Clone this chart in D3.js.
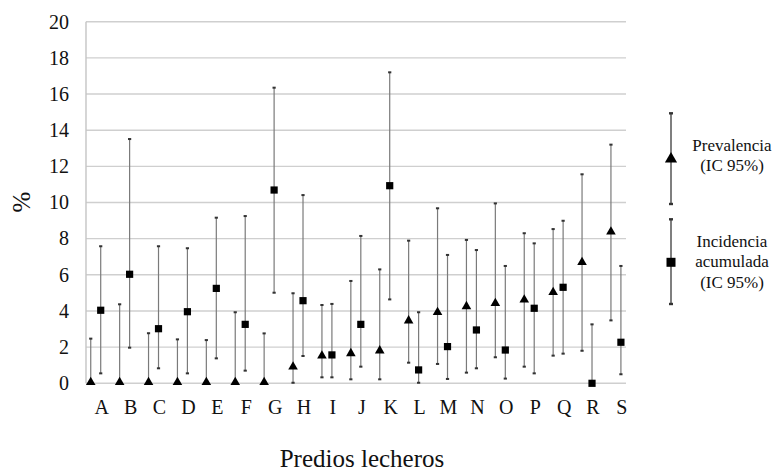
<!DOCTYPE html>
<html>
<head>
<meta charset="utf-8">
<script src="https://cdn.jsdelivr.net/npm/d3@7"></script>
</head>
<body style="margin:0">
<svg id="chart" width="772" height="474" font-family="Liberation Serif"></svg>
<script>
/* data */
var predios = ['A','B','C','D','E','F','G','H','I','J','K','L','M','N','O','P','Q','R','S'];
var prevalencia   = [0,0,0,0,0,0,0,0.86,1.47,1.6,1.75,3.41,3.87,4.2,4.37,4.57,4.98,6.64,8.33];
var prevalenciaLo = [0,0,0,0,0,0,0,0.03,0.33,0.22,0.22,1.14,1.07,0.59,1.44,0.92,1.53,1.8,3.48];
var prevalenciaHi = [2.47,4.37,2.77,2.43,2.39,3.93,2.76,4.98,4.33,5.66,6.3,7.89,9.68,7.93,9.95,8.3,8.53,11.56,13.2];
var incidencia    = [4.04,6.03,3.02,3.96,5.25,3.26,10.69,4.57,1.57,3.26,10.93,0.74,2.03,2.95,1.84,4.15,5.31,0,2.27];
var incidenciaLo  = [0.55,1.97,0.83,0.55,1.38,0.70,5.01,1.51,0.33,0.92,4.64,0.03,0.24,0.83,0.26,0.55,1.64,0,0.5];
var incidenciaHi  = [7.58,13.51,7.58,7.47,9.16,9.25,16.35,10.41,4.39,8.15,17.2,3.93,7.1,7.37,6.49,7.74,8.99,3.26,6.49];
var yTicks = [0,2,4,6,8,10,12,14,16,18,20];

var W = 772, H = 474;
var margin = {t:21.7, r:146, b:90.7, l:86};
var width = W - margin.l - margin.r,
    height = H - margin.t - margin.b;

var svg = d3.select('#chart');

function serif(sel, size) {
  return sel.attr('font-family', 'Liberation Serif')
    .style('font-family', '"Liberation Serif"')
    .style('font-size', size + 'px')
    .attr('fill', '#111');
}

var plot = svg.append('g')
  .attr('transform', 'translate(' + margin.l + ',' + margin.t + ')');

var x = d3.scaleLinear().domain([-0.509, 18.176]).range([0, width]);
var y = d3.scaleLinear().domain([0, 20]).range([height, 0]);
var triOff = -0.345;

// gridlines
plot.selectAll('.grid').data(yTicks).enter().append('line')
  .attr('x1', 0).attr('x2', width)
  .attr('y1', function(d){return y(d);}).attr('y2', function(d){return y(d);})
  .style('stroke', '#cfcfcf').style('stroke-width', 1.4);

plot.append('line')
  .attr('x1', 0).attr('x2', 0).attr('y1', 0).attr('y2', height)
  .style('stroke', '#c4c4c4').style('stroke-width', 1.4);

// y tick labels
plot.selectAll('.yl').data(yTicks).enter().append('text')
  .attr('x', -17)
  .attr('y', function(d){return y(d);})
  .attr('dy', '0.34em')
  .attr('text-anchor', 'end')
  .call(serif, 20)
  .text(function(d){return d;});

// x labels
plot.selectAll('.xl').data(predios).enter().append('text')
  .attr('x', function(d, i){return x(i) + 1;})
  .attr('y', height + 31)
  .attr('text-anchor', 'middle')
  .call(serif, 20)
  .text(function(d){return d;});

function errorBars(vals, lo, hi, off) {
  var g = plot.append('g');
  g.selectAll('line.bar').data(vals).enter().append('line')
    .attr('x1', function(d, i){return x(i + off);})
    .attr('x2', function(d, i){return x(i + off);})
    .attr('y1', function(d, i){return y(lo[i]);})
    .attr('y2', function(d, i){return y(hi[i]);})
    .style('stroke', '#7a7a7a').style('stroke-width', 1.2);
  [lo, hi].forEach(function(arr) {
    g.selectAll(null).data(arr).enter().append('rect')
      .attr('x', function(d, i){return x(i + off) - 1.6;})
      .attr('y', function(d){return y(d) - 1;})
      .attr('width', 3.2).attr('height', 2)
      .style('fill', '#333');
  });
  return g;
}

var gp = errorBars(prevalencia, prevalenciaLo, prevalenciaHi, triOff);
var gi = errorBars(incidencia, incidenciaLo, incidenciaHi, 0);

var tri = d3.symbol().type(d3.symbolTriangle).size(40);
gp.selectAll('path').data(prevalencia).enter().append('path')
  .attr('d', tri)
  .attr('transform', function(d, i){return 'translate(' + x(i + triOff) + ',' + (y(d) - 1) + ')';})
  .style('fill', '#000');

gi.selectAll('rect.sq').data(incidencia).enter().append('rect')
  .attr('class', 'sq')
  .attr('x', function(d, i){return x(i) - 3.6;})
  .attr('y', function(d){return y(d) - 3.6;})
  .attr('width', 7.2).attr('height', 7.2)
  .style('fill', '#000');

// axis titles
svg.append('text')
  .attr('transform', 'translate(30,202) rotate(-90)')
  .attr('text-anchor', 'middle')
  .call(serif, 25)
  .text('%');

svg.append('text')
  .attr('x', 362).attr('y', 467)
  .attr('text-anchor', 'middle')
  .call(serif, 25)
  .text('Predios lecheros');

// legend
var lx = 671;
var leg = svg.append('g');
function legendItem(top, bottom, mid, square) {
  leg.append('line').attr('x1', lx).attr('x2', lx).attr('y1', top).attr('y2', bottom)
    .style('stroke', '#555').style('stroke-width', 1.5);
  [top, bottom].forEach(function(v){
    leg.append('rect').attr('x', lx - 2).attr('y', v - 1.2).attr('width', 4).attr('height', 2.4).style('fill', '#333');
  });
  if (square) {
    leg.append('rect').attr('x', lx - 4.5).attr('y', mid - 4.5).attr('width', 9).attr('height', 9).style('fill', '#000');
  } else {
    leg.append('path').attr('d', d3.symbol().type(d3.symbolTriangle).size(64))
      .attr('transform', 'translate(' + lx + ',' + (mid - 1) + ')').style('fill', '#000');
  }
}
legendItem(113.3, 204, 160, false);
legendItem(219.3, 304, 262.3, true);

function legendText(lines, y0, step) {
  lines.forEach(function(s, i){
    leg.append('text').attr('text-anchor', 'middle')
      .attr('x', 732).attr('y', y0 + i * step)
      .call(serif, 17)
      .text(s);
  });
}
legendText(['Prevalencia', '(IC 95%)'], 151, 19.5);
legendText(['Incidencia', 'acumulada', '(IC 95%)'], 246.5, 20.8);
</script>
</body>
</html>
